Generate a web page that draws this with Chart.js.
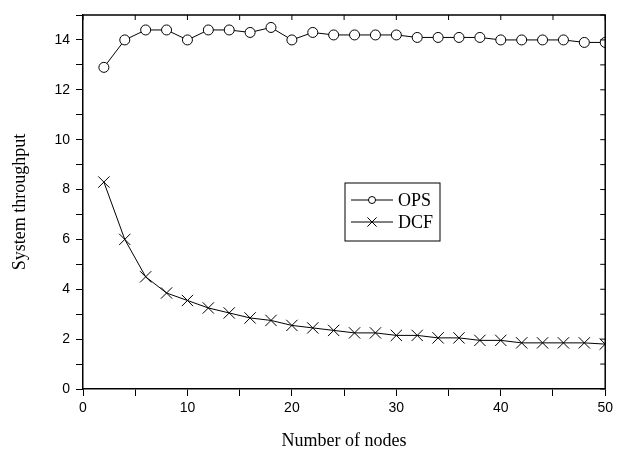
<!DOCTYPE html>
<html>
<head>
<meta charset="utf-8">
<script src="https://cdn.jsdelivr.net/npm/chart.js@4/dist/chart.umd.min.js"></script>
<style>
  html, body { margin: 0; padding: 0; background: #fff; }
  #wrap { width: 617px; height: 455px; }
</style>
</head>
<body>
<div id="wrap"><canvas id="chart"></canvas></div>
<script>
// number of nodes on the x axis
const nodes = [2, 4, 6, 8, 10, 12, 14, 16, 18, 20, 22, 24, 26, 28, 30, 32, 34, 36, 38, 40, 42, 44, 46, 48, 50];
// system throughput
const ops = [12.9, 14.0, 14.4, 14.4, 14.0, 14.4, 14.4, 14.3, 14.5, 14.0, 14.3, 14.2, 14.2, 14.2, 14.2, 14.1, 14.1, 14.1, 14.1, 14.0, 14.0, 14.0, 14.0, 13.9, 13.9];
const dcf = [8.3, 6.0, 4.5, 3.85, 3.55, 3.25, 3.05, 2.85, 2.75, 2.55, 2.45, 2.35, 2.25, 2.25, 2.15, 2.15, 2.05, 2.05, 1.95, 1.95, 1.85, 1.85, 1.85, 1.85, 1.8];
const seriesNames = ["OPS", "DCF"];

const xLabelEvery = 10;
const yLabelEvery = 2;

const toPoints = (ys) => nodes.map((x, i) => ({ x: x, y: ys[i] }));

// top/right frame with inward ticks, like the origin-style box
const framePlugin = {
  id: "frame",
  afterDatasetsDraw(chart) {
    const { ctx, chartArea: a, scales } = chart;
    ctx.save();
    ctx.strokeStyle = "#000";
    ctx.lineWidth = 1.5;
    ctx.beginPath();
    ctx.moveTo(a.left, a.top);
    ctx.lineTo(a.right, a.top);
    ctx.lineTo(a.right, a.bottom);
    ctx.stroke();
    ctx.lineWidth = 1;
    ctx.beginPath();
    scales.x.ticks.forEach((t) => {
      const px = scales.x.getPixelForValue(t.value);
      ctx.moveTo(px, a.top);
      ctx.lineTo(px, a.top + 5);
    });
    scales.y.ticks.forEach((t) => {
      const py = scales.y.getPixelForValue(t.value);
      ctx.moveTo(a.right, py);
      ctx.lineTo(a.right - 5, py);
    });
    ctx.stroke();
    ctx.restore();
  }
};

// boxed legend sitting inside the plot
const boxLegend = {
  id: "boxLegend",
  afterDraw(chart) {
    const { ctx, chartArea: a } = chart;
    const left = a.left + 262, top = a.top + 168, w = 95, h = 58;
    const markerSize = { circle: 3.5, crossRot: 6.5 };
    ctx.save();
    ctx.strokeStyle = "#000";
    ctx.lineWidth = 1;
    ctx.fillStyle = "#fff";
    ctx.fillRect(left, top, w, h);
    ctx.strokeRect(left, top, w, h);
    chart.data.datasets.forEach((ds, i) => {
      const y = top + 17 + i * 22;
      ctx.strokeStyle = "#000";
      ctx.lineWidth = 1;
      ctx.beginPath();
      ctx.moveTo(left + 6, y);
      ctx.lineTo(left + 48, y);
      ctx.stroke();
      ctx.fillStyle = ds.pointBackgroundColor;
      Chart.helpers.drawPoint(ctx, {
        pointStyle: ds.pointStyle,
        radius: markerSize[ds.pointStyle],
        borderWidth: 1,
        rotation: 0
      }, left + 27, y);
      ctx.fillStyle = "#000";
      ctx.font = "18px 'Liberation Serif', 'Times New Roman', serif";
      ctx.textBaseline = "middle";
      ctx.fillText(ds.label, left + 53, y + 1);
    });
    ctx.restore();
  }
};

const tickFont = { family: "'Liberation Sans', Arial, sans-serif", size: 14 };
const titleFont = { family: "'Liberation Serif', 'Times New Roman', serif", size: 18 };

new Chart(document.getElementById("chart"), {
  type: "line",
  data: {
    datasets: [
      {
        label: seriesNames[0],
        data: toPoints(ops),
        borderColor: "#000",
        borderWidth: 1,
        pointStyle: "circle",
        pointRadius: 5,
        pointBorderWidth: 1,
        pointBorderColor: "#000",
        pointBackgroundColor: "#fff",
        clip: 0
      },
      {
        label: seriesNames[1],
        data: toPoints(dcf),
        borderColor: "#000",
        borderWidth: 1,
        pointStyle: "crossRot",
        pointRadius: 8,
        pointBorderWidth: 1,
        pointBorderColor: "#000",
        pointBackgroundColor: "#000",
        clip: 0
      }
    ]
  },
  options: {
    responsive: true,
    maintainAspectRatio: false,
    animation: false,
    layout: { padding: { top: 15, right: 8, left: 0, bottom: 0 } },
    plugins: {
      legend: { display: false },
      tooltip: { enabled: false }
    },
    scales: {
      x: {
        type: "linear",
        min: 0,
        max: 50,
        afterFit(scale) { scale.height = 66; },
        ticks: {
          stepSize: 5,
          color: "#000",
          font: tickFont,
          padding: 4,
          maxRotation: 0,
          callback: (v) => (v % xLabelEvery === 0 ? v : "")
        },
        grid: {
          drawOnChartArea: false,
          drawTicks: true,
          tickLength: 7,
          tickColor: "#000",
          tickWidth: 1
        },
        border: { display: true, color: "#000", width: 1.5 },
        title: {
          display: true,
          text: "Number of nodes",
          color: "#000",
          font: titleFont,
          padding: { top: 0, bottom: 3 }
        }
      },
      y: {
        min: 0,
        max: 15,
        afterFit(scale) { scale.width = 83; },
        ticks: {
          stepSize: 1,
          color: "#000",
          font: tickFont,
          padding: 6,
          callback: (v) => (v % yLabelEvery === 0 ? v : "")
        },
        grid: {
          drawOnChartArea: false,
          drawTicks: true,
          tickLength: 7,
          tickColor: "#000",
          tickWidth: 1
        },
        border: { display: true, color: "#000", width: 1.5 },
        title: {
          display: true,
          text: "System throughput",
          color: "#000",
          font: titleFont,
          padding: { top: 9, bottom: 0 }
        }
      }
    }
  },
  plugins: [framePlugin, boxLegend]
});
</script>
</body>
</html>
